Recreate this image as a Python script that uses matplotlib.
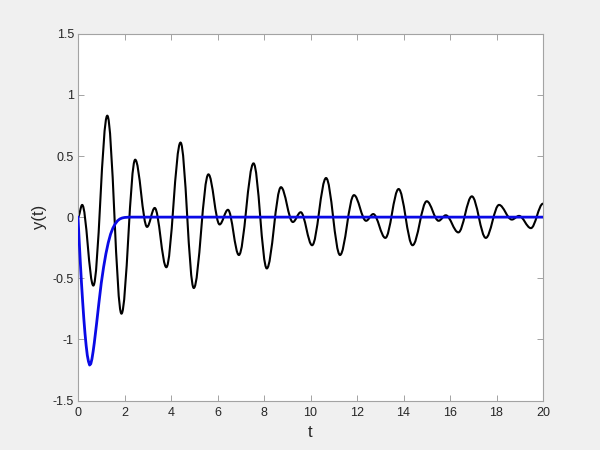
import numpy as np
import matplotlib
matplotlib.use("Agg")
import matplotlib.pyplot as plt
from matplotlib.path import Path
from matplotlib.patches import PathPatch

plt.rcParams["font.family"] = ["Liberation Sans", "DejaVu Sans"]

# black response: turning points (t, y)
t_black = [0.0, 0.18, 0.66, 1.26, 1.87, 2.46, 2.97, 3.30, 3.80, 4.41,
           4.98, 5.61, 6.09, 6.45, 6.92, 7.55, 8.12, 8.73, 9.24, 9.58,
           10.07, 10.67, 11.27, 11.87, 12.39, 12.70, 13.22, 13.79, 14.39, 15.00,
           15.51, 15.82, 16.36, 16.94, 17.54, 18.11, 18.66, 18.97, 19.48, 20.0]
y_black = [0.0, 0.10, -0.56, 0.83, -0.79, 0.47, -0.08, 0.075, -0.41, 0.61,
           -0.58, 0.35, -0.06, 0.06, -0.31, 0.44, -0.42, 0.245, -0.04, 0.04,
           -0.23, 0.32, -0.31, 0.18, -0.03, 0.025, -0.17, 0.23, -0.23, 0.13,
           -0.03, 0.015, -0.125, 0.17, -0.17, 0.10, -0.02, 0.01, -0.09, 0.11]

# blue response
t_blue = [0.0, 0.05, 0.1, 0.15, 0.2, 0.25, 0.3, 0.35, 0.4, 0.45, 0.5, 0.55,
          0.6, 0.65, 0.7, 0.8, 0.9, 1.0, 1.1, 1.2, 1.3, 1.4, 1.5, 1.6, 1.7,
          1.8, 1.9, 2.0, 2.2, 20.0]
y_blue = [0.0, -0.19, -0.37, -0.54, -0.69, -0.83, -0.95, -1.05, -1.13, -1.18, -1.21, -1.20,
          -1.16, -1.10, -1.03, -0.87, -0.70, -0.54, -0.41, -0.30, -0.21, -0.14, -0.09, -0.055, -0.03,
          -0.015, -0.007, -0.003, 0.0, 0.0]

xticks = [0, 2, 4, 6, 8, 10, 12, 14, 16, 18, 20]
yticks = [-1.5, -1, -0.5, 0, 0.5, 1, 1.5]
ytick_labels = ["-1.5", "-1", "-0.5", "0", "0.5", "1", "1.5"]

fig = plt.figure(figsize=(6, 4.5), dpi=100, facecolor="#f0f0f0")
ax = fig.add_axes([0.13, 0.11, 0.775, 0.815])
ax.set_facecolor("white")

# smooth curve through the turning points (flat tangent at each one)
verts = [(t_black[0], y_black[0])]
codes = [Path.MOVETO]
for i in range(len(t_black) - 1):
    t0, t1 = t_black[i], t_black[i + 1]
    y0, y1 = y_black[i], y_black[i + 1]
    d = (t1 - t0) * 0.36
    verts += [(t0 + d, y0), (t1 - d, y1), (t1, y1)]
    codes += [Path.CURVE4] * 3
ax.add_patch(PathPatch(Path(verts, codes), fill=False, edgecolor="black",
                       lw=1.5, capstyle="round", joinstyle="round", zorder=2))

ax.plot(t_blue, y_blue, color="#0a0ae6", lw=2.0, zorder=3)

ax.set_xlim(0, 20)
ax.set_ylim(-1.5, 1.5)
ax.set_xticks(xticks)
ax.set_yticks(yticks)
ax.set_yticklabels(ytick_labels)

grey = "#a3a3a3"
for s in ax.spines.values():
    s.set_color(grey)
    s.set_linewidth(0.8)
ax.tick_params(direction="in", length=4, width=0.7, color=grey,
               top=True, right=True, labelsize=9, labelcolor="#262626")
ax.tick_params(axis="x", pad=5)
ax.tick_params(axis="y", pad=3)

ax.set_xlabel("t", fontsize=12, color="#262626", labelpad=4)
ax.set_ylabel("y(t)", fontsize=12, color="#262626", labelpad=4)

fig.savefig("out.png", dpi=100, facecolor=fig.get_facecolor())
